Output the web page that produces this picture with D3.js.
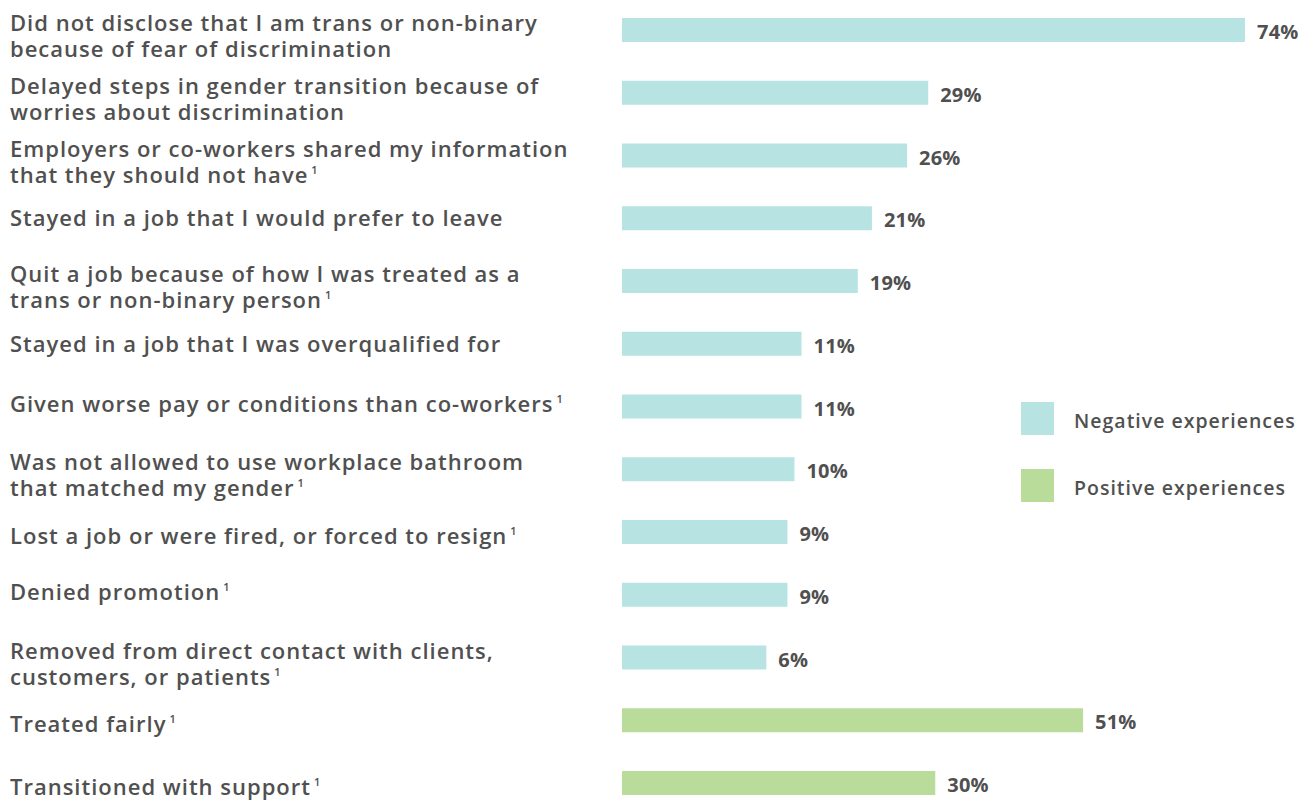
<!DOCTYPE html>
<html>
<head>
<meta charset="utf-8">
<script src="https://cdn.jsdelivr.net/npm/d3@7"></script>
<style>
  html, body { margin: 0; padding: 0; background: #ffffff; }
  svg text { font-family: "Open Sans", "Noto Sans", sans-serif; fill: #505050; }
</style>
</head>
<body>
<svg id="chart" width="1312" height="800"></svg>
<script>
// Survey items (each label split into its display lines)
const categories = [
  ["Did not disclose that I am trans or non-binary", "because of fear of discrimination"],
  ["Delayed steps in gender transition because of", "worries about discrimination"],
  ["Employers or co-workers shared my information", "that they should not have"],
  ["Stayed in a job that I would prefer to leave"],
  ["Quit a job because of how I was treated as a", "trans or non-binary person"],
  ["Stayed in a job that I was overqualified for"],
  ["Given worse pay or conditions than co-workers"],
  ["Was not allowed to use workplace bathroom", "that matched my gender"],
  ["Lost a job or were fired, or forced to resign"],
  ["Denied promotion"],
  ["Removed from direct contact with clients,", "customers, or patients"],
  ["Treated fairly"],
  ["Transitioned with support"]
];
// Whether the item carries footnote 1
const footnotes = [false, false, true, false, true, false, true, true, true, true, true, true, true];
// Share of respondents (%)
const values = [74, 29, 26, 21, 19, 11, 11, 10, 9, 9, 6, 51, 30];
// Experience type of each item
const groups = ["Negative", "Negative", "Negative", "Negative", "Negative", "Negative",
                "Negative", "Negative", "Negative", "Negative", "Negative", "Positive", "Positive"];
const legendLabels = ["Negative experiences", "Positive experiences"];

// Layout
const colors = { Negative: "#b8e3e3", Positive: "#b9dc9b" };
const barH = 24;
const singleLineNudge = [0, 0, 0, 8, 0, 8, 5, 0, 12, 5, 0, 12, 12];

const svg = d3.select("#chart");

const rows = d3.range(values.length);
const y = d3.scalePoint().domain(rows).range([30, 783]);
// Bars grow from a common left edge; the scale's origin sits left of it
const x = d3.scaleLinear().domain([-14.5, 74]).range([622, 1245]);
const color = d3.scaleOrdinal().domain(["Negative", "Positive"]).range([colors.Negative, colors.Positive]);

// Bars
svg.append("g").selectAll("rect")
  .data(rows)
  .join("rect")
  .attr("x", x(-14.5))
  .attr("y", i => y(i) - barH / 2)
  .attr("width", i => x(values[i]) - x(-14.5))
  .attr("height", barH)
  .attr("fill", i => color(groups[i]));

// Value labels
svg.append("g").selectAll("text")
  .data(rows)
  .join("text")
  .attr("x", i => x(values[i]) + 12)
  .attr("y", i => y(i) + 9)
  .attr("font-size", 20)
  .attr("font-weight", 700)
  .attr("letter-spacing", 0.2)
  .text(i => values[i] + "%");

// Category labels
const labelG = svg.append("g");
rows.forEach(i => {
  const lines = categories[i];
  const base = lines.length > 1 ? y(i) + 1 : y(i) + singleLineNudge[i];
  const t = labelG.append("text")
    .attr("x", 10)
    .attr("y", base)
    .attr("font-size", 22)
    .attr("font-weight", 600)
    .attr("letter-spacing", 1.0);
  lines.forEach((ln, k) => {
    t.append("tspan")
      .attr("x", 10)
      .attr("y", base + k * 26)
      .text(ln);
  });
  if (footnotes[i]) {
    t.append("tspan")
      .attr("dx", 3)
      .attr("dy", -9)
      .attr("font-size", 11)
      .attr("letter-spacing", 0)
      .text("1");
  }
});

// Legend
const legend = svg.append("g");
legendLabels.forEach((lbl, k) => {
  const g = legend.append("g").attr("transform", `translate(1021, ${402 + k * 67})`);
  g.append("rect").attr("width", 33).attr("height", 33).attr("fill", color.range()[k]);
  g.append("text").attr("x", 53).attr("y", 26)
    .attr("font-size", 19.5).attr("font-weight", 600)
    .attr("letter-spacing", 1.0)
    .text(lbl);
});
</script>
</body>
</html>
